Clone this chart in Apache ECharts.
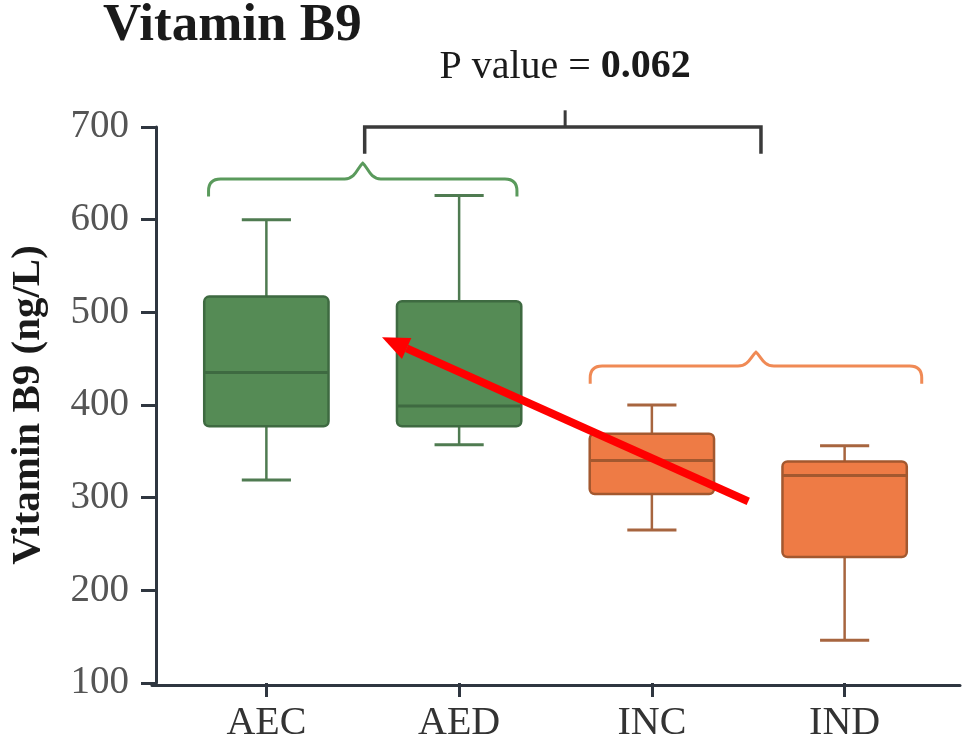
<!DOCTYPE html>
<html><head><meta charset="utf-8">
<script src="https://cdn.jsdelivr.net/npm/echarts@6/dist/echarts.min.js"></script>
<style>html,body{margin:0;padding:0;background:#fff}#c{width:962px;height:743px}</style>
</head><body><div id="c"></div>
<script>
// ---- data ----
const categories = ['AEC', 'AED', 'INC', 'IND'];
const whiskerLow  = [319, 357, 265, 146];
const q1          = [377, 377, 304, 236];
const median      = [435, 399, 340, 324];
const q3          = [517, 512, 369, 339];
const whiskerHigh = [600, 626, 400, 356];
const yTicks = [100, 200, 300, 400, 500, 600, 700];
const pValueLabel = 'P value = ';
const pValue = '0.062';

// ---- styles ----
const FONT = '"Liberation Serif", "Times New Roman", serif';
const fills    = ['#558b55', '#558b55', '#ee7b45', '#ee7b45'];
const strokes  = ['#3e6a41', '#3e6a41', '#a3582f', '#a3582f'];
const whiskers = ['#4f7b51', '#4f7b51', '#a7653f', '#a7653f'];
const AXIS = '#2f3640';

const boxData = categories.map((c, i) => [i, whiskerLow[i], q1[i], median[i], q3[i], whiskerHigh[i]]);

function renderBox(params, api) {
  const i = api.value(0);
  const pLow = api.coord([i, api.value(1)]);
  const pQ1 = api.coord([i, api.value(2)]);
  const pMed = api.coord([i, api.value(3)]);
  const pQ3 = api.coord([i, api.value(4)]);
  const pHigh = api.coord([i, api.value(5)]);
  const band = api.size([1, 0])[0];
  const bw = band * 0.645, cw = band * 0.255;
  const cx = pMed[0];
  const wc = whiskers[i], sc = strokes[i];
  return { type: 'group', children: [
    { type: 'line', shape: { x1: cx, y1: pHigh[1], x2: cx, y2: pQ3[1] }, style: { stroke: wc, lineWidth: 2.5 } },
    { type: 'line', shape: { x1: cx - cw / 2, y1: pHigh[1], x2: cx + cw / 2, y2: pHigh[1] }, style: { stroke: wc, lineWidth: 3 } },
    { type: 'line', shape: { x1: cx, y1: pQ1[1], x2: cx, y2: pLow[1] }, style: { stroke: wc, lineWidth: 2.5 } },
    { type: 'line', shape: { x1: cx - cw / 2, y1: pLow[1], x2: cx + cw / 2, y2: pLow[1] }, style: { stroke: wc, lineWidth: 3 } },
    { type: 'rect', shape: { x: cx - bw / 2, y: pQ3[1], width: bw, height: pQ1[1] - pQ3[1], r: 5 },
      style: { fill: fills[i], stroke: sc, lineWidth: 2.5 } },
    { type: 'line', shape: { x1: cx - bw / 2, y1: pMed[1], x2: cx + bw / 2, y2: pMed[1] }, style: { stroke: sc, lineWidth: 3 } }
  ]};
}

function bracePath(x0, x1, xp, yb, yh, yp, r, w) {
  return 'M' + x0 + ' ' + yb + ' L' + x0 + ' ' + (yh + r) + ' Q' + x0 + ' ' + yh + ' ' + (x0 + r) + ' ' + yh +
    ' L' + (xp - w) + ' ' + yh + ' C' + (xp - w * 0.4) + ' ' + yh + ' ' + (xp - 5) + ' ' + (yp + 4) + ' ' + xp + ' ' + yp +
    ' C' + (xp + 5) + ' ' + (yp + 4) + ' ' + (xp + w * 0.4) + ' ' + yh + ' ' + (xp + w) + ' ' + yh +
    ' L' + (x1 - r) + ' ' + yh + ' Q' + x1 + ' ' + yh + ' ' + x1 + ' ' + (yh + r) + ' L' + x1 + ' ' + yb;
}

function renderAnno(params, api) {
  const a = api.coord([0, 700]), b = api.coord([1, 700]);
  const X = t => a[0] + t * (b[0] - a[0]);
  const Y = v => api.coord([0, v])[1];
  // arrow
  const tx = X(2.50), ty = Y(296), hx = X(0.60), hy = Y(473);
  const dx = hx - tx, dy = hy - ty, len = Math.sqrt(dx * dx + dy * dy);
  const ux = dx / len, uy = dy / len, px = -uy, py = ux;
  const hl = 27, hw = 11.5;
  const bx = hx - ux * hl, by = hy - uy * hl;
  const yb = Y(700);
  return { type: 'group', children: [
    { type: 'path', shape: { pathData: bracePath(X(-0.30), X(1.30), X(0.50), Y(625), Y(644), Y(661), 12, 18) },
      style: { fill: null, stroke: '#5a9a5c', lineWidth: 3 } },
    { type: 'path', shape: { pathData: bracePath(X(1.68), X(3.40), X(2.54), Y(423), Y(442), Y(457), 12, 18) },
      style: { fill: null, stroke: '#f08a55', lineWidth: 3 } },
    { type: 'polyline', shape: { points: [[X(0.51), Y(671)], [X(0.51), yb], [X(2.566), yb], [X(2.566), Y(671)]] },
      style: { fill: null, stroke: '#3a3a3a', lineWidth: 3.5 } },
    { type: 'line', shape: { x1: X(1.55), y1: yb, x2: X(1.55), y2: Y(718) }, style: { stroke: '#3a3a3a', lineWidth: 3 } },
    { type: 'text', x: X(1.55), y: yb - 60,
      style: { text: '{n|' + pValueLabel + '}{b|' + pValue + '}', align: 'center', verticalAlign: 'middle',
        rich: { n: { fontFamily: FONT, fontSize: 40, fill: '#1a1a1a' },
                b: { fontFamily: FONT, fontSize: 40, fontWeight: 'bold', fill: '#1a1a1a' } } } },
    { type: 'line', shape: { x1: tx, y1: ty, x2: bx, y2: by }, style: { stroke: '#ff0000', lineWidth: 8 } },
    { type: 'polygon', shape: { points: [[hx, hy], [bx + px * hw, by + py * hw], [bx - px * hw, by - py * hw]] },
      style: { fill: '#ff0000' } }
  ]};
}

const chart = echarts.init(document.getElementById('c'), null, { renderer: 'canvas' });
chart.setOption({
  animation: false,
  backgroundColor: '#fff',
  title: { text: 'Vitamin B9', left: 103, top: 0, padding: 0,
    textStyle: { fontFamily: FONT, fontSize: 53, fontWeight: 'bold', color: '#1a1a1a' } },
  grid: [
    { left: 166, right: 21, top: 127, bottom: 58 },
    { left: 152, right: 2, top: 127, bottom: 58 }
  ],
  xAxis: [
    { type: 'category', data: categories, gridIndex: 0,
      axisLine: { show: false },
      axisTick: { show: true, alignWithLabel: true, length: 14, lineStyle: { color: AXIS, width: 3 } },
      axisLabel: { fontFamily: FONT, fontSize: 40, color: '#333', margin: 20 },
      splitLine: { show: false } },
    { type: 'value', gridIndex: 1, min: 0, max: 1,
      axisLine: { show: true, lineStyle: { color: AXIS, width: 3 } },
      axisTick: { show: false }, axisLabel: { show: false }, splitLine: { show: false } }
  ],
  yAxis: [
    { type: 'value', gridIndex: 0, min: yTicks[0], max: yTicks[yTicks.length - 1], interval: 100, offset: 14,
      name: 'Vitamin B9 (ng/L)', nameLocation: 'middle', nameGap: 107,
      nameTextStyle: { fontFamily: FONT, fontSize: 41, fontWeight: 'bold', color: '#1a1a1a' },
      axisLine: { show: true, lineStyle: { color: AXIS, width: 3 } },
      axisTick: { show: true, length: 15, lineStyle: { color: AXIS, width: 3 } },
      axisLabel: { fontFamily: FONT, fontSize: 39, color: '#555', margin: 27 },
      splitLine: { show: false } },
    { type: 'value', gridIndex: 1, show: false, min: 0, max: 1 }
  ],
  series: [
    { type: 'custom', xAxisIndex: 0, yAxisIndex: 0, renderItem: renderBox, data: boxData,
      encode: { x: 0, y: [1, 2, 3, 4, 5] }, clip: false, z: 2 },
    { type: 'custom', xAxisIndex: 0, yAxisIndex: 0, renderItem: renderAnno, data: [[0, 400]],
      encode: { x: 0, y: 1 }, clip: false, z: 3, silent: true }
  ]
});
</script></body></html>
